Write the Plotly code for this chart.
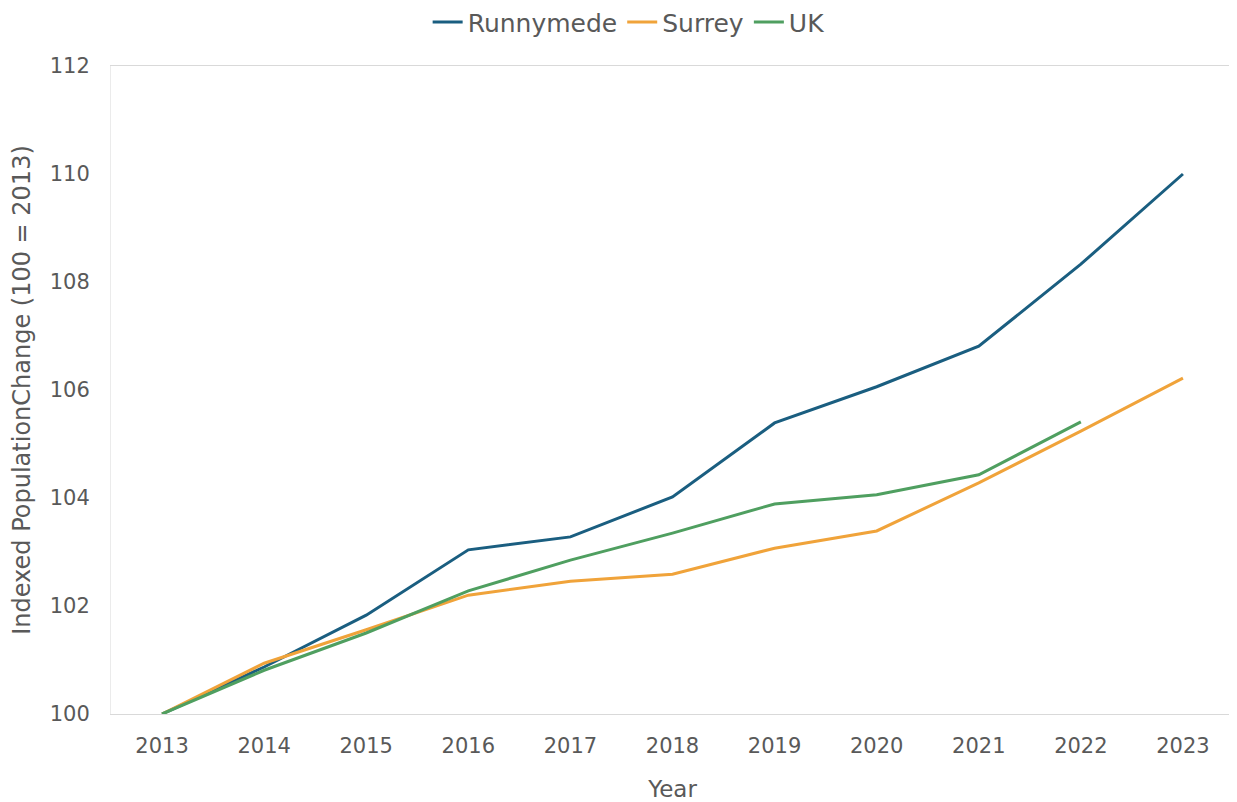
import plotly.graph_objects as go

years = ["2013", "2014", "2015", "2016", "2017", "2018", "2019", "2020", "2021", "2022", "2023"]
runnymede = [100.0, 100.87, 101.83, 103.04, 103.28, 104.02, 105.39, 106.06, 106.81, 108.33, 110.0]
surrey = [100.0, 100.94, 101.56, 102.2, 102.46, 102.59, 103.07, 103.39, 104.28, 105.24, 106.22]
uk = [100.0, 100.81, 101.5, 102.28, 102.85, 103.35, 103.89, 104.06, 104.43, 105.41, None]

series = [("Runnymede", runnymede, "#1A5E80"), ("Surrey", surrey, "#F0A33A"), ("UK", uk, "#4F9F60")]

font_family = "DejaVu Sans, sans-serif"
text_color = "#595959"

fig = go.Figure()
for name, vals, color in series:
    fig.add_trace(go.Scatter(x=years, y=vals, name=name, mode="lines",
                             line=dict(color=color, width=3), connectgaps=False))

# page body has an 8px margin, so the figure is sized/offset to compensate
fig.update_layout(
    width=1229, height=794,
    margin=dict(l=103, r=3, t=58, b=88),
    paper_bgcolor="white", plot_bgcolor="white",
    font=dict(family=font_family, size=21, color=text_color),
    legend=dict(orientation="h", xref="container", x=0.505, xanchor="center",
                yref="container", y=0.982, yanchor="middle",
                font=dict(size=25, color=text_color), itemwidth=30),
    xaxis=dict(type="category", range=[-0.5, 10.5], showgrid=False,
               showline=True, linecolor="#D9D9D9", linewidth=1, mirror=True,
               ticks="", ticklabelstandoff=13, tickfont=dict(size=21, color=text_color),
               title=dict(text="Year", font=dict(size=23, color=text_color), standoff=25)),
    yaxis=dict(range=[100, 112], dtick=2, showgrid=False, zeroline=False,
               showline=True, linecolor="#EBEBEB", linewidth=1, mirror=True,
               ticks="", ticklabelstandoff=16, tickfont=dict(size=21, color=text_color),
               title=dict(text="Indexed PopulationChange (100 = 2013)",
                          font=dict(size=24, color=text_color), standoff=12)),
)

fig.write_html("out.html")
